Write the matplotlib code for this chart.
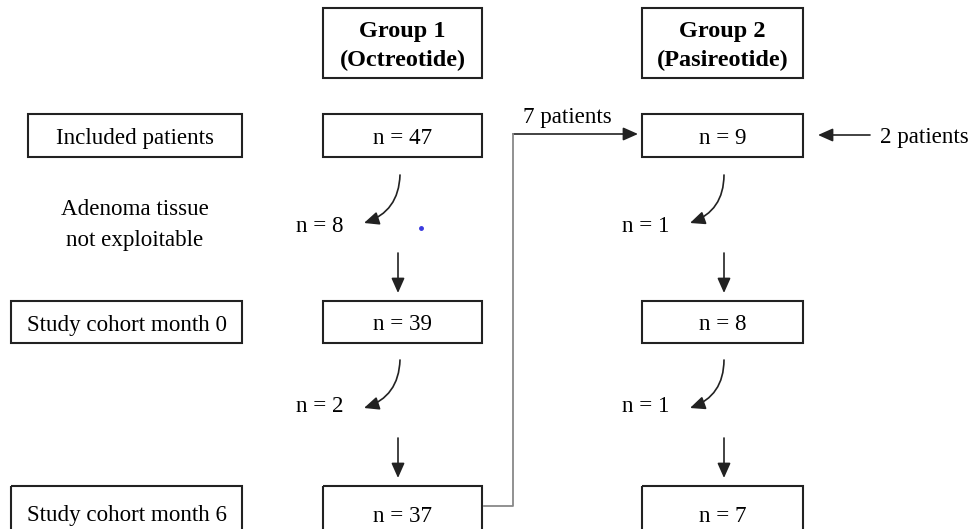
import matplotlib.pyplot as plt
from matplotlib.patches import Rectangle, FancyArrowPatch

plt.rcParams['font.family'] = ['Liberation Serif', 'DejaVu Serif']

# libellés des étapes et effectifs
etapes = ["Included patients", "Study cohort month 0", "Study cohort month 6"]
groupes = ["Group 1\n(Octreotide)", "Group 2\n(Pasireotide)"]
effectifs_g1 = [47, 39, 37]
effectifs_g2 = [9, 8, 7]
exclus_g1 = [8, 2]
exclus_g2 = [1, 1]
transfert = "7 patients"
ajout_g2 = "2 patients"
note_exclusion = "Adenoma tissue\nnot exploitable"

W, H = 972, 529
fig = plt.figure(figsize=(W / 100, H / 100), dpi=100)
ax = fig.add_axes([0, 0, 1, 1])
ax.set_xlim(0, W)
ax.set_ylim(H, 0)
ax.axis('off')

fs = 16.6
lw = 1.5

def boite(x0, x1, y0, y1, texte, bold=False):
    ax.add_patch(Rectangle((x0, y0), x1 - x0, y1 - y0, fill=False, ec='#222222', lw=lw))
    ax.text((x0 + x1) / 2, (y0 + y1) / 2 + 3, texte, ha='center', va='center',
            fontsize=17.5 if bold else fs, fontweight='bold' if bold else 'normal',
            linespacing=1.45)

def fleche(p0, p1, rad=0.0, color='#222222'):
    a = FancyArrowPatch(p0, p1, arrowstyle='-|>,head_length=9,head_width=4',
                        connectionstyle=f'arc3,rad={rad}', color=color, lw=1.2,
                        mutation_scale=1, shrinkA=0, shrinkB=0)
    ax.add_patch(a)

# en-têtes
boite(323, 482, 8, 78, groupes[0], bold=True)
boite(642, 803, 8, 78, groupes[1], bold=True)

# lignes des étapes
rangs = [(114, 157), (301, 343), (486, 540)]
gauche = [(28, 242), (11, 242), (11, 242)]
for (y0, y1), (x0, x1), lab, n1, n2 in zip(rangs, gauche, etapes, effectifs_g1, effectifs_g2):
    boite(x0, x1, y0, y1, lab)
    boite(323, 482, y0, y1, f"n = {n1}")
    boite(642, 803, y0, y1, f"n = {n2}")

ax.text(135, 225, note_exclusion, ha='center', va='center', fontsize=fs, linespacing=1.6)

# flèches d'exclusion (courbes)
for k, (y_start, y_txt) in enumerate([(175, 226), (360, 407)]):
    fleche((400, y_start), (364, y_start + 48), rad=-0.35)
    ax.text(343, y_txt, f"n = {exclus_g1[k]}", ha='right', va='center', fontsize=fs)
    fleche((724, y_start), (690, y_start + 48), rad=-0.35)
    ax.text(669, y_txt, f"n = {exclus_g2[k]}", ha='right', va='center', fontsize=fs)

# flèches droites
for y_start in (253, 438):
    fleche((398, y_start), (398, y_start + 40))
    fleche((724, y_start), (724, y_start + 40))

# transfert du groupe 1 vers le groupe 2
ax.plot([484, 513, 513], [506, 506, 134], color='#888888', lw=1.3)
fleche((513, 134), (638, 134), color='#222222')
ax.text(567, 118, transfert, ha='center', va='center', fontsize=fs)

# patients ajoutés au groupe 2
fleche((870, 135), (818, 135))
ax.text(880, 137, ajout_g2, ha='left', va='center', fontsize=fs)

# petit point bleu
ax.plot([421], [228], 'o', color='#3a3adf', ms=2.5)

fig.savefig('out.png', dpi=100)
